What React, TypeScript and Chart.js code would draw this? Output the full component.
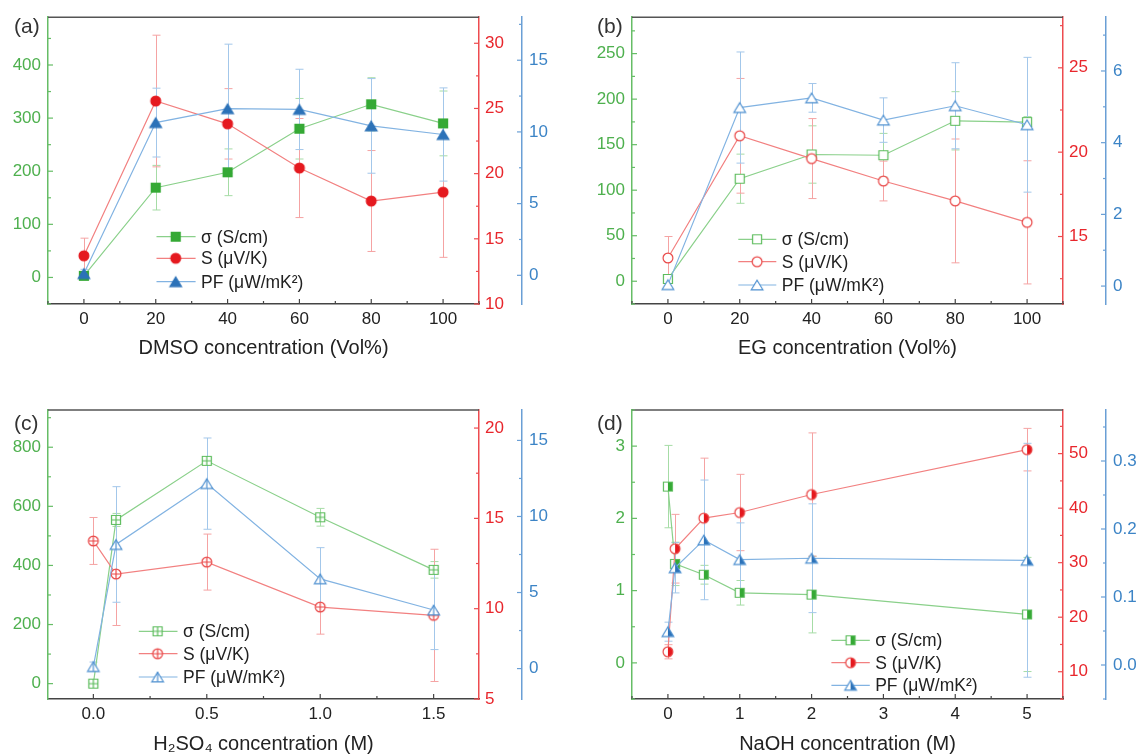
import React, { useEffect, useRef } from "react";
import { Chart, registerables } from "chart.js";

Chart.register(...registerables);

const FONT = "'Liberation Sans', Arial, Helvetica, sans-serif";

// ---------------- data: panel (a) DMSO ----------------
const aX = [0, 20, 40, 60, 80, 100];
const aSigma = [3, 169, 198, 280, 326, 290];
const aSigmaErr = [4, 42, 44, 57, 50, 61];
const aSeebeck = [13.7, 25.57, 23.82, 20.43, 17.9, 18.58];
const aSeebeckErr = [1.35, 5.05, 2.7, 3.8, 3.87, 5.0];
const aPF = [0.12, 10.65, 11.62, 11.57, 10.42, 9.82];
const aPFErr = [0.3, 2.4, 4.5, 2.8, 3.3, 3.25];
const aXTicks = [0, 20, 40, 60, 80, 100];
const aSigmaTicks = [0, 100, 200, 300, 400];
const aSeebeckTicks = [10, 15, 20, 25, 30];
const aPFTicks = [0, 5, 10, 15];

// ---------------- data: panel (b) EG ----------------
const bX = [0, 20, 40, 60, 80, 100];
const bSigma = [2.5, 112.6, 139.2, 138.4, 176.2, 174.8];
const bSigmaErr = [3, 27, 31.5, 24, 32, 6];
const bSeebeck = [13.73, 20.97, 19.62, 18.29, 17.11, 15.84];
const bSeebeckErr = [1.27, 3.4, 2.37, 1.18, 3.67, 3.65];
const bPF = [0.04, 4.98, 5.25, 4.63, 5.03, 4.5];
const bPFErr = [0.1, 1.55, 0.4, 0.62, 1.2, 1.88];
const bXTicks = [0, 20, 40, 60, 80, 100];
const bSigmaTicks = [0, 50, 100, 150, 200, 250];
const bSeebeckTicks = [15, 20, 25];
const bPFTicks = [0, 2, 4, 6];

// ---------------- data: panel (c) H2SO4 ----------------
const cX = [0, 0.1, 0.5, 1.0, 1.5];
const cSigma = [0, 554, 754, 563, 385];
const cSigmaErr = [5, 22, 10, 30, 28];
const cSeebeck = [13.75, 11.92, 12.58, 10.09, 9.63];
const cSeebeckErr = [1.3, 2.85, 1.55, 1.5, 3.66];
const cPF = [0.13, 8.16, 12.16, 5.9, 3.85];
const cPFErr = [0.3, 3.8, 3.0, 2.05, 2.6];
const cXTicks = [0, 0.5, 1.0, 1.5];
const cSigmaTicks = [0, 200, 400, 600, 800];
const cSeebeckTicks = [5, 10, 15, 20];
const cPFTicks = [0, 5, 10, 15];

// ---------------- data: panel (d) NaOH ----------------
const dX = [0, 0.1, 0.5, 1, 2, 5];
const dSigma = [2.44, 1.37, 1.22, 0.97, 0.945, 0.67];
const dSigmaErr = [0.57, 0.3, 0.13, 0.17, 0.53, 0.79];
const dSeebeck = [13.66, 32.56, 38.17, 39.2, 42.5, 50.73];
const dSeebeckErr = [1.3, 6.3, 11, 7, 11.3, 3.9];
const dPF = [0.049, 0.143, 0.184, 0.155, 0.157, 0.154];
const dPFErr = [0.014, 0.037, 0.088, 0.054, 0.08, 0.172];
const dXTicks = [0, 1, 2, 3, 4, 5];
const dSigmaTicks = [0, 1, 2, 3];
const dSeebeckTicks = [10, 20, 30, 40, 50];
const dPFTicks = [0, 0.1, 0.2, 0.3];

const seriesLabels = ["σ (S/cm)", "S (μV/K)", "PF (μW/mK²)"];

// ---------------- styles ----------------
const GREEN = { marker: "#35a935", stroke: "#5cbc5c", line: "#8ad08a", err: "#a6dca6", axis: "#66bd66", text: "#4eb04e" };
const RED = { marker: "#e5191f", stroke: "#e94545", line: "#f28080", err: "#f5a3a3", axis: "#ee4b4f", text: "#e8262c" };
const BLUE = { marker: "#2c72b8", stroke: "#4e90d0", line: "#82b3e2", err: "#a3c7ea", axis: "#6a9fd5", text: "#3c84c6" };

type MStyle = "filled" | "open" | "cross" | "half";
type Shape = "square" | "circle" | "triangle";

function paintMarker(ctx: CanvasRenderingContext2D, shape: Shape, style: MStyle, fill: string, stroke: string, cx: number, cy: number) {
  const path = () => {
    ctx.beginPath();
    if (shape === "square") {
      const h = 4.5;
      ctx.rect(cx - h, cy - h, 2 * h, 2 * h);
    } else if (shape === "circle") {
      ctx.arc(cx, cy, 4.9, 0, Math.PI * 2);
    } else {
      const w = 5.8, hh = 4.8;
      ctx.moveTo(cx, cy - hh);
      ctx.lineTo(cx + w, cy + hh);
      ctx.lineTo(cx - w, cy + hh);
      ctx.closePath();
    }
  };
  ctx.save();
  ctx.lineWidth = 1.2;
  path();
  if (style === "filled") {
    ctx.fillStyle = fill;
    ctx.fill();
    ctx.strokeStyle = fill;
    ctx.stroke();
  } else {
    ctx.fillStyle = "#ffffff";
    ctx.fill();
    if (style === "half") {
      ctx.save();
      path();
      ctx.clip();
      ctx.fillStyle = fill;
      ctx.fillRect(cx, cy - 10, 10, 20);
      ctx.restore();
    }
    ctx.strokeStyle = stroke;
    path();
    ctx.stroke();
    if (style === "cross") {
      ctx.beginPath();
      if (shape === "triangle") {
        ctx.moveTo(cx, cy - 4.8);
        ctx.lineTo(cx, cy + 4.8);
      } else {
        const h = shape === "square" ? 4.5 : 4.9;
        ctx.moveTo(cx - h, cy);
        ctx.lineTo(cx + h, cy);
        ctx.moveTo(cx, cy - h);
        ctx.lineTo(cx, cy + h);
      }
      ctx.stroke();
    }
  }
  ctx.restore();
}

function makeMarker(shape: Shape, style: MStyle, fill: string, stroke: string): HTMLCanvasElement {
  const c = document.createElement("canvas");
  c.width = 16;
  c.height = 16;
  const ctx = c.getContext("2d")!;
  paintMarker(ctx, shape, style, fill, stroke, 8, 8);
  return c;
}

function minorTicks(vals: number[], min: number, max: number): number[] {
  if (vals.length < 2) return [];
  const step = vals[1] - vals[0];
  const out: number[] = [];
  out.push(vals[0] - step / 2);
  for (let i = 0; i < vals.length - 1; i++) out.push((vals[i] + vals[i + 1]) / 2);
  out.push(vals[vals.length - 1] + step / 2);
  return out.filter((v) => v >= min - 1e-9 && v <= max + 1e-9);
}

const framePlugin = {
  id: "frameTicks",
  beforeDatasetsDraw(chart: any) {
    const ctx = chart.ctx;
    const a = chart.chartArea;
    const xs = chart.scales.x;
    ctx.save();
    ctx.beginPath();
    ctx.rect(a.left, a.top, a.right - a.left, a.bottom - a.top);
    ctx.clip();
    chart.data.datasets.forEach((ds: any) => {
      const ys = chart.scales[ds.yAxisID];
      ctx.strokeStyle = ds.errColor;
      ctx.lineWidth = 1;
      ds.data.forEach((pt: any, i: number) => {
        const e = ds.errs[i];
        if (!e) return;
        const px = Math.round(xs.getPixelForValue(pt.x)) + 0.5;
        const t = ys.getPixelForValue(pt.y + e);
        const b = ys.getPixelForValue(pt.y - e);
        ctx.beginPath();
        ctx.moveTo(px, t);
        ctx.lineTo(px, b);
        ctx.moveTo(px - 4, t);
        ctx.lineTo(px + 4, t);
        ctx.moveTo(px - 4, b);
        ctx.lineTo(px + 4, b);
        ctx.stroke();
      });
    });
    ctx.restore();
  },
  afterDraw(chart: any) {
    const ctx = chart.ctx;
    const a = chart.chartArea;
    const o = chart.options.plugins.frameTicks;
    ctx.save();
    // top frame
    ctx.strokeStyle = "#555555";
    ctx.lineWidth = 1.5;
    ctx.beginPath();
    ctx.moveTo(a.left, a.top);
    ctx.lineTo(a.right, a.top);
    ctx.stroke();
    // inward ticks
    ["x", "y", "y1", "y2"].forEach((id) => {
      const s = chart.scales[id];
      const vals = s.ticks.map((t: any) => t.value);
      const minors = minorTicks(vals, s.min, s.max);
      ctx.strokeStyle = s.options.border.color;
      ctx.lineWidth = 1.2;
      const draw = (v: number, len: number) => {
        const p = s.getPixelForValue(v);
        ctx.beginPath();
        if (id === "x") {
          ctx.moveTo(p, a.bottom);
          ctx.lineTo(p, a.bottom - len);
        } else if (id === "y") {
          ctx.moveTo(a.left, p);
          ctx.lineTo(a.left + len, p);
        } else {
          ctx.moveTo(s.left, p);
          ctx.lineTo(s.left - len, p);
        }
        ctx.stroke();
      };
      vals.forEach((v: number) => draw(v, 5));
      minors.forEach((v: number) => draw(v, 3));
    });
    // legend
    const lg = o.legend;
    chart.data.datasets.forEach((_: any, k: number) => {
      const ds = chart.data.datasets[o.legendOrder[k]];
      const y = lg.rows[k];
      ctx.strokeStyle = ds.borderColor;
      ctx.lineWidth = 1.2;
      ctx.beginPath();
      ctx.moveTo(lg.x0, y);
      ctx.lineTo(lg.x1, y);
      ctx.stroke();
      const m = ds.pointStyle as HTMLCanvasElement;
      ctx.drawImage(m, lg.xm - m.width / 2, y - m.height / 2);
      ctx.fillStyle = "#222222";
      ctx.font = `17.5px ${FONT}`;
      ctx.textAlign = "left";
      ctx.textBaseline = "middle";
      ctx.fillText(ds.label, lg.xt, y + 1);
    });
    // panel letter
    ctx.fillStyle = "#333333";
    ctx.font = `21px ${FONT}`;
    ctx.textAlign = "left";
    ctx.textBaseline = "middle";
    ctx.fillText(o.letter.text, o.letter.x, o.letter.y);
    ctx.restore();
  },
};

type PanelDef = {
  letter: string;
  letterPos: [number, number];
  xs: number[];
  sigma: number[];
  sigmaErr: number[];
  seebeck: number[];
  seebeckErr: number[];
  pf: number[];
  pfErr: number[];
  xTicks: number[];
  sigmaTicks: number[];
  seebeckTicks: number[];
  pfTicks: number[];
  xRange: [number, number];
  sigmaRange: [number, number];
  seebeckRange: [number, number];
  pfRange: [number, number];
  xDec: number;
  pfDec: number;
  xTitle: string;
  marker: MStyle;
  widths: [number, number, number];
  topPad: number;
  xHeight: number;
  titlePad: number;
  legend: { x0: number; x1: number; xm: number; xt: number; rows: number[] };
};

const panels: { def: PanelDef; left: number; top: number }[] = [
  {
    left: 0,
    top: 0,
    def: {
      letter: "(a)", letterPos: [14, 27],
      xs: aX, sigma: aSigma, sigmaErr: aSigmaErr, seebeck: aSeebeck, seebeckErr: aSeebeckErr, pf: aPF, pfErr: aPFErr,
      xTicks: aXTicks, sigmaTicks: aSigmaTicks, seebeckTicks: aSeebeckTicks, pfTicks: aPFTicks,
      xRange: [-10, 110], sigmaRange: [-50, 490], seebeckRange: [10, 32], pfRange: [-2, 18],
      xDec: 0, pfDec: 0, xTitle: "DMSO concentration (Vol%)", marker: "filled",
      widths: [48, 43, 46], topPad: 15, xHeight: 73, titlePad: 19,
      legend: { x0: 156.5, x1: 195.6, xm: 175.7, xt: 201, rows: [236.7, 258.3, 281.7] },
    },
  },
  {
    left: 568,
    top: 0,
    def: {
      letter: "(b)", letterPos: [29, 27],
      xs: bX, sigma: bSigma, sigmaErr: bSigmaErr, seebeck: bSeebeck, seebeckErr: bSeebeckErr, pf: bPF, pfErr: bPFErr,
      xTicks: bXTicks, sigmaTicks: bSigmaTicks, seebeckTicks: bSeebeckTicks, pfTicks: bPFTicks,
      xRange: [-10, 110], sigmaRange: [-25, 290], seebeckRange: [11, 28], pfRange: [-0.5, 7.5],
      xDec: 0, pfDec: 0, xTitle: "EG concentration (Vol%)", marker: "open",
      widths: [64, 43, 30], topPad: 15, xHeight: 73, titlePad: 19,
      legend: { x0: 170.3, x1: 208.3, xm: 189.1, xt: 213.8, rows: [239.3, 261.7, 285] },
    },
  },
  {
    left: 0,
    top: 377,
    def: {
      letter: "(c)", letterPos: [14, 47],
      xs: cX, sigma: cSigma, sigmaErr: cSigmaErr, seebeck: cSeebeck, seebeckErr: cSeebeckErr, pf: cPF, pfErr: cPFErr,
      xTicks: cXTicks, sigmaTicks: cSigmaTicks, seebeckTicks: cSeebeckTicks, pfTicks: cPFTicks,
      xRange: [-0.2, 1.7], sigmaRange: [-52, 926], seebeckRange: [5, 21], pfRange: [-2, 17],
      xDec: 1, pfDec: 0, xTitle: "H₂SO₄ concentration (M)", marker: "cross",
      widths: [48, 43, 46], topPad: 33, xHeight: 55, titlePad: 0,
      legend: { x0: 138.8, x1: 177.5, xm: 157.6, xt: 183, rows: [254.3, 276.7, 300] },
    },
  },
  {
    left: 568,
    top: 377,
    def: {
      letter: "(d)", letterPos: [29, 47],
      xs: dX, sigma: dSigma, sigmaErr: dSigmaErr, seebeck: dSeebeck, seebeckErr: dSeebeckErr, pf: dPF, pfErr: dPFErr,
      xTicks: dXTicks, sigmaTicks: dSigmaTicks, seebeckTicks: dSeebeckTicks, pfTicks: dPFTicks,
      xRange: [-0.5, 5.5], sigmaRange: [-0.5, 3.5], seebeckRange: [5, 58], pfRange: [-0.05, 0.375],
      xDec: 0, pfDec: 1, xTitle: "NaOH concentration (M)", marker: "half",
      widths: [64, 43, 30], topPad: 33, xHeight: 55, titlePad: 0,
      legend: { x0: 263.4, x1: 301.8, xm: 282.6, xt: 307.2, rows: [263.3, 285.7, 308.3] },
    },
  },
];

function yScale(ticks: number[], range: [number, number], pos: string, width: number, col: any, pad: number, dec: number, weight: number) {
  return {
    type: "linear",
    position: pos,
    min: range[0],
    max: range[1],
    weight,
    afterBuildTicks: (s: any) => {
      s.ticks = ticks.map((v) => ({ value: v }));
    },
    afterFit: (s: any) => {
      s.width = width;
    },
    grid: { display: false, drawTicks: false },
    border: { display: true, color: col.axis, width: 1.5 },
    ticks: {
      color: col.text,
      autoSkip: false,
      padding: pad,
      font: { size: 17, family: FONT },
      callback: (v: any) => Number(v).toFixed(dec),
    },
  };
}

function buildConfig(p: PanelDef): any {
  const mk = (shape: Shape, col: any) =>
    makeMarker(shape, p.marker, col.marker, p.marker === "filled" ? col.marker : col.stroke);
  const ds = (label: string, ys: number[], errs: number[], axis: string, shape: Shape, col: any, order: number) => ({
    label,
    data: p.xs.map((x, i) => ({ x, y: ys[i] })),
    errs,
    errColor: col.err,
    yAxisID: axis,
    borderColor: col.line,
    borderWidth: 1.2,
    backgroundColor: col.marker,
    pointStyle: mk(shape, col),
    pointRadius: 5,
    pointHoverRadius: 5,
    tension: 0,
    fill: false,
    order,
  });
  return {
    type: "line",
    data: {
      datasets: [
        ds(seriesLabels[0], p.sigma, p.sigmaErr, "y", "square", GREEN, 2),
        ds(seriesLabels[1], p.seebeck, p.seebeckErr, "y1", "circle", RED, 1),
        ds(seriesLabels[2], p.pf, p.pfErr, "y2", "triangle", BLUE, 0),
      ],
    },
    options: {
      responsive: false,
      animation: false,
      layout: { padding: { top: p.topPad, left: 0, right: 0, bottom: 0 } },
      plugins: {
        legend: { display: false },
        tooltip: { enabled: false },
        frameTicks: {
          legend: p.legend,
          legendOrder: [0, 1, 2],
          letter: { text: p.letter, x: p.letterPos[0], y: p.letterPos[1] },
        },
      },
      scales: {
        x: {
          type: "linear",
          position: "bottom",
          min: p.xRange[0],
          max: p.xRange[1],
          afterBuildTicks: (s: any) => {
            s.ticks = p.xTicks.map((v) => ({ value: v }));
          },
          afterFit: (s: any) => {
            s.height = p.xHeight;
          },
          grid: { display: false, drawTicks: false },
          border: { display: true, color: "#444444", width: 1.5 },
          ticks: {
            color: "#222222",
            autoSkip: false,
            maxRotation: 0,
            padding: 5,
            font: { size: 17, family: FONT },
            callback: (v: any) => Number(v).toFixed(p.xDec),
          },
          title: {
            display: true,
            text: p.xTitle,
            color: "#222222",
            font: { size: 20, family: FONT, lineHeight: 1 },
            padding: { top: 0, bottom: p.titlePad },
          },
        },
        y: yScale(p.sigmaTicks, p.sigmaRange, "left", p.widths[0], GREEN, 7, 0, 0),
        y1: yScale(p.seebeckTicks, p.seebeckRange, "right", p.widths[1], RED, 6, 0, 0),
        y2: yScale(p.pfTicks, p.pfRange, "right", p.widths[2], BLUE, 7, p.pfDec, 1),
      },
    },
    plugins: [framePlugin],
  };
}

function PanelChart({ def, left, top }: { def: PanelDef; left: number; top: number }) {
  const ref = useRef<HTMLCanvasElement>(null);
  useEffect(() => {
    const chart = new Chart(ref.current as HTMLCanvasElement, buildConfig(def));
    return () => chart.destroy();
  }, [def]);
  return (
    <canvas
      ref={ref}
      width={568}
      height={377}
      style={{ position: "absolute", left, top, width: 568, height: 377 }}
    />
  );
}

export default function App() {
  return (
    <div style={{ position: "absolute", left: 0, top: 0, width: 1136, height: 754, background: "#ffffff", overflow: "hidden" }}>
      {panels.map((p, i) => (
        <PanelChart key={i} def={p.def} left={p.left} top={p.top} />
      ))}
    </div>
  );
}
